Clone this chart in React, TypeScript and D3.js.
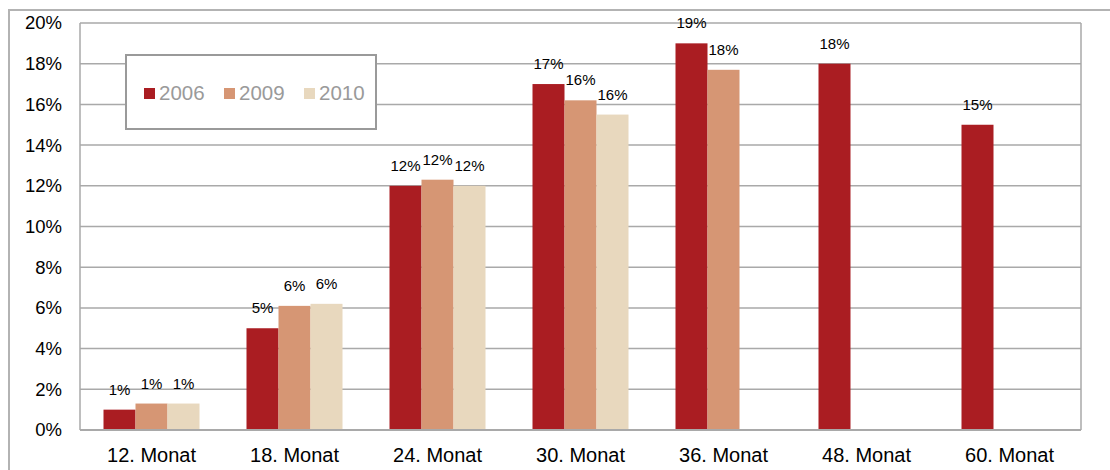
import React from "react";
import * as d3 from "d3";

const categories = ["12. Monat", "18. Monat", "24. Monat", "30. Monat", "36. Monat", "48. Monat", "60. Monat"];
const seriesNames = ["2006", "2009", "2010"];
const values2006: (number | null)[] = [1.0, 5.0, 12.0, 17.0, 19.0, 18.0, 15.0];
const values2009: (number | null)[] = [1.3, 6.1, 12.3, 16.2, 17.7, null, null];
const values2010: (number | null)[] = [1.3, 6.2, 12.0, 15.5, null, null, null];
const yTicks = [0, 2, 4, 6, 8, 10, 12, 14, 16, 18, 20];
const colors = ["#AA1D22", "#D69674", "#E8D8BE"];

const W = 1110;
const H = 470;
const plot = { left: 80, right: 1081, top: 23, bottom: 430 };

export default function App() {
  const series = [values2006, values2009, values2010];
  const x = d3.scaleBand<string>().domain(categories).range([plot.left, plot.right]).paddingInner(0).paddingOuter(0);
  const bw = 32;
  const xs = d3.scaleBand<string>().domain(seriesNames).range([0, bw * 3]);
  const y = d3.scaleLinear().domain([0, 20]).range([plot.bottom, plot.top]);
  const font = "'Liberation Sans', Arial, sans-serif";
  const grid = "#A9A9A9";

  return (
    <svg width={W} height={H} style={{ position: "absolute", left: 0, top: 0 }} fontFamily={font}>
      <rect x={0} y={0} width={W} height={H} fill="#fff" />
      <rect x={9} y={10} width={W + 10} height={H + 10} fill="none" stroke="#B3B3B3" strokeWidth={2} />
      {yTicks.map((t) => (
        <g key={t}>
          <line x1={plot.left} x2={plot.right} y1={y(t)} y2={y(t)} stroke={grid} strokeWidth={1.5} />
          <text x={62} y={y(t)} dy="0.35em" textAnchor="end" fontSize={18.5} fill="#000">
            {t + "%"}
          </text>
        </g>
      ))}
      <line x1={plot.left} x2={plot.left} y1={plot.top} y2={plot.bottom} stroke={grid} strokeWidth={1.5} />
      <line x1={plot.right} x2={plot.right} y1={plot.top} y2={plot.bottom} stroke={grid} strokeWidth={1.5} />
      {categories.map((c, i) => {
        const center = (x(c) as number) + x.bandwidth() / 2;
        const g0 = center - (bw * 3) / 2;
        return (
          <g key={c}>
            {series.map((s, si) => {
              const v = s[i];
              if (v == null) return null;
              const bx = g0 + (xs(seriesNames[si]) as number);
              return (
                <g key={si}>
                  <rect x={bx} y={y(v)} width={xs.bandwidth()} height={y(0) - y(v)} fill={colors[si]} />
                  <text x={bx + bw / 2} y={y(v) - 15} textAnchor="middle" fontSize={15} fill="#000">
                    {Math.round(v) + "%"}
                  </text>
                </g>
              );
            })}
            <text x={center} y={462} textAnchor="middle" fontSize={20} fill="#000">
              {c}
            </text>
          </g>
        );
      })}
      <line x1={plot.left} x2={plot.right} y1={plot.bottom} y2={plot.bottom} stroke={grid} strokeWidth={2} />
      <g>
        <rect x={126} y={55} width={250} height={74} fill="#fff" stroke="#9A9A9A" strokeWidth={2} />
        {seriesNames.map((n, i) => (
          <g key={n} transform={`translate(${144 + i * 80},0)`}>
            <rect x={0} y={88} width={11} height={11} fill={colors[i]} />
            <text x={15} y={100} fontSize={20.5} fill="#9A9A9A">
              {n}
            </text>
          </g>
        ))}
      </g>
    </svg>
  );
}
